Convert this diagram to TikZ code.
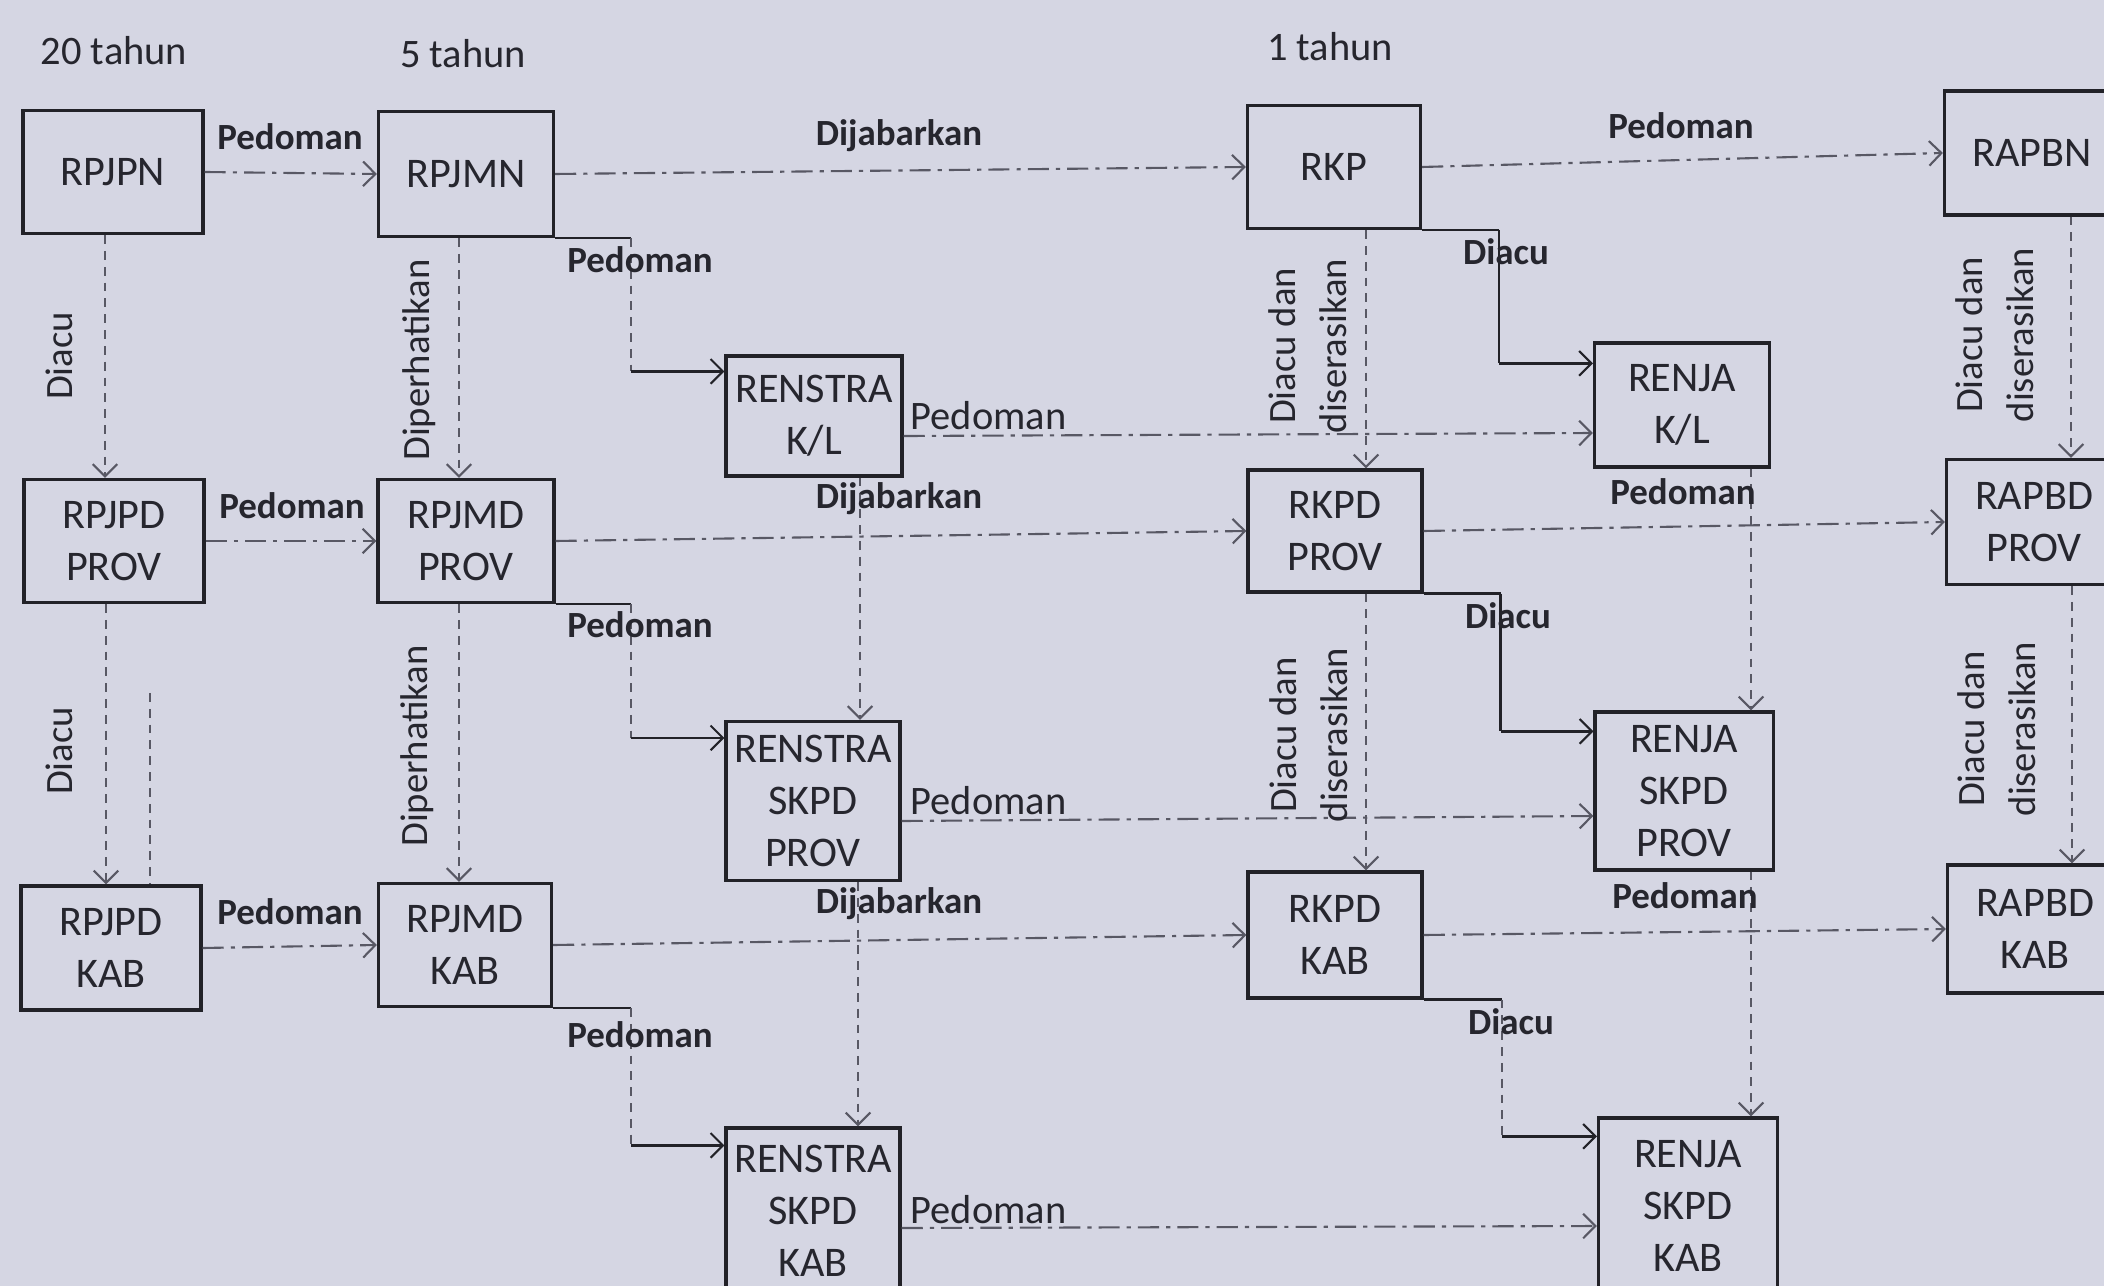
\documentclass[tikz,border=0pt]{standalone}
\usepackage{fontspec}
\setmainfont{Carlito}
\usetikzlibrary{arrows.meta}
\usepackage{xcolor}
\definecolor{paper}{RGB}{213,214,227}
\definecolor{ink}{RGB}{38,38,46}
\definecolor{boxline}{RGB}{34,34,40}
\definecolor{linkgray}{RGB}{88,88,100}

\begin{document}
\begin{tikzpicture}[x=0.01cm,y=-0.01cm,
  plan/.style={draw=boxline,line width=0.9pt,fill=paper,text=ink,inner sep=0pt,
               align=center,font=\fontsize{12}{14.8}\selectfont},
  head/.style={text=ink,font=\fontsize{11.5}{13}\selectfont},
  lbl/.style={text=ink,inner sep=0pt,font=\fontsize{10.5}{12}\selectfont\bfseries},
  sidelbl/.style={text=ink,inner sep=0pt,font=\fontsize{11.5}{13}\selectfont},
  rlbl/.style={text=ink,inner sep=0pt,rotate=90,align=center,
               font=\fontsize{11}{14.5}\selectfont},
  tip/.style={-{Straight Barb[length=3.5pt,width=7pt,line width=0.6pt]}},
  hlink/.style={draw=linkgray,line width=0.6pt,
                dash pattern=on 6pt off 2pt on 1.2pt off 2pt,tip},
  vlink/.style={draw=linkgray,line width=0.5pt,dash pattern=on 2.5pt off 2pt,tip},
  stepline/.style={draw=boxline,line width=0.7pt},
  stepdash/.style={draw=linkgray,line width=0.5pt,dash pattern=on 2.5pt off 2pt}]

  \fill[paper] (0,0) rectangle (2104,1286);
  \useasboundingbox (0,0) rectangle (2104,1286);

  % time spans
  \node[head] (h20) at (114,51) {20 tahun};
  \node[head] (h5) at (463,54) {5 tahun};
  \node[head] (h1) at (1330,47) {1 tahun};

  % planning documents
  \foreach \nm/\cx/\cy/\w/\h/\txt in {
    rpjpn/113/172/1.80/1.23/{RPJPN},
    rpjmn/466/174/1.75/1.25/{RPJMN},
    rkp/1334/167/1.73/1.23/{RKP},
    rapbn/2032/153/1.75/1.24/{RAPBN},
    renstraKL/814/416/1.76/1.20/{RENSTRA\\K/L},
    renjaKL/1682/405/1.75/1.24/{RENJA\\K/L},
    rpjpdprov/114/541/1.80/1.23/{RPJPD\\PROV},
    rpjmdprov/466/541/1.76/1.23/{RPJMD\\PROV},
    rkpdprov/1335/531/1.74/1.22/{RKPD\\PROV},
    rapbdprov/2034/522/1.75/1.25/{RAPBD\\PROV},
    renstraSP/813/801/1.74/1.59/{RENSTRA\\SKPD\\PROV},
    renjaSP/1684/791/1.78/1.58/{RENJA\\SKPD\\PROV},
    rpjpdkab/111/948/1.80/1.24/{RPJPD\\KAB},
    rpjmdkab/465/945/1.73/1.23/{RPJMD\\KAB},
    rkpdkab/1335/935/1.74/1.26/{RKPD\\KAB},
    rapbdkab/2035/929/1.75/1.28/{RAPBD\\KAB},
    renstraSK/813/1211/1.74/1.66/{RENSTRA\\SKPD\\KAB},
    renjaSK/1688/1206/1.79/1.76/{RENJA\\SKPD\\KAB}} {
    \node[plan,minimum width=\w cm,minimum height=\h cm] (\nm) at (\cx,\cy) {\txt};
  }

  % horizontal links
  \draw[hlink] (rpjpn.east) -- (rpjmn.west);
  \draw[hlink] (rpjmn.east) -- (rkp.west);
  \draw[hlink] (rkp.east) -- (rapbn.west);
  \draw[hlink] (rpjpdprov.east) -- (rpjmdprov.west);
  \draw[hlink] (rpjmdprov.east) -- (rkpdprov.west);
  \draw[hlink] (rkpdprov.east) -- (rapbdprov.west);
  \draw[hlink] (rpjpdkab.east) -- (rpjmdkab.west);
  \draw[hlink] (rpjmdkab.east) -- (rkpdkab.west);
  \draw[hlink] (rkpdkab.east) -- (rapbdkab.west);
  \draw[hlink] ([yshift=-0.2cm]renstraKL.east) -- ([yshift=-0.28cm]renjaKL.west);
  \draw[hlink] ([yshift=-0.2cm]renstraSP.east) -- ([yshift=-0.25cm]renjaSP.west);
  \draw[hlink] ([yshift=-0.17cm]renstraSK.east) -- ([yshift=-0.2cm]renjaSK.west);

  % vertical links
  \foreach \a/\b/\dx in {rpjpn/rpjpdprov/-0.08, rpjpdprov/rpjpdkab/-0.08,
                         rpjmn/rpjmdprov/-0.07, rpjmdprov/rpjmdkab/-0.07,
                         rkp/rkpdprov/0.32, rkpdprov/rkpdkab/0.31,
                         rapbn/rapbdprov/0.39, rapbdprov/rapbdkab/0.38,
                         renstraKL/renstraSP/0.46, renstraSP/renstraSK/0.45,
                         renjaKL/renjaSP/0.69, renjaSP/renjaSK/0.67} {
    \draw[vlink] ([xshift=\dx cm]\a.south) -- ([xshift=\dx cm]\a.south |- \b.north);
  }
  \coordinate (extra) at (150,693);
  \draw[vlink,-] (extra) -- (extra |- rpjpdkab.north);

  % stepped links
  \foreach \a/\b/\dx/\dy/\vs in {rpjmn/renstraKL/76/0.17/stepdash,
                                 rkp/renjaKL/77/0.22/stepline,
                                 rpjmdprov/renstraSP/75/0.18/stepdash,
                                 rkpdprov/renjaSP/77/0.21/stepline,
                                 rpjmdkab/renstraSK/78/0.19/stepdash,
                                 rkpdkab/renjaSK/78/0.20/stepdash} {
    \draw[stepline] (\a.south east) -- ++(\dx,0) coordinate (k-\a);
    \coordinate (e-\b) at ([yshift=-\dy cm]\b.north west);
    \draw[\vs] (k-\a) -- (k-\a |- e-\b);
    \draw[stepline,tip] (k-\a |- e-\b) -- (e-\b);
  }

  % link labels
  \foreach \nm/\cx/\cy/\txt in {
    l1/290/137/Pedoman, l2/899/136/Dijabarkan, l3/1681/126/Pedoman,
    l4/292/506/Pedoman, l5/899/499/Dijabarkan, l6/1683/492/Pedoman,
    l7/290/912/Pedoman, l8/899/904/Dijabarkan, l9/1685/896/Pedoman,
    s1/640/260/Pedoman, s2/1506/252/Diacu,
    s3/640/625/Pedoman, s4/1508/616/Diacu,
    s5/640/1035/Pedoman, s6/1511/1022/Diacu} {
    \node[lbl] (\nm) at (\cx,\cy) {\txt};
  }
  \node[sidelbl,anchor=west] (p1) at (910,416) {Pedoman};
  \node[sidelbl,anchor=west] (p2) at (910,801) {Pedoman};
  \node[sidelbl,anchor=west] (p3) at (910,1210) {Pedoman};

  \foreach \nm/\cx/\cy/\txt in {
    r1/59/356/{Diacu}, r2/59/751/{Diacu},
    r3/419/360/{Diperhatikan}, r4/417/746/{Diperhatikan},
    r5/1308/346/{Diacu dan\\diserasikan}, r6/1309/735/{Diacu dan\\diserasikan},
    r7/1995/335/{Diacu dan\\diserasikan}, r8/1997/729/{Diacu dan\\diserasikan}} {
    \node[rlbl] (\nm) at (\cx,\cy) {\txt};
  }
\end{tikzpicture}
\end{document}
